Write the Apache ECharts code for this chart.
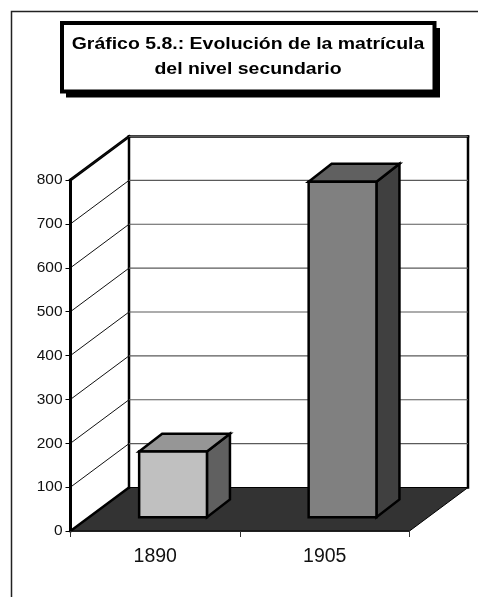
<!DOCTYPE html>
<html>
<head>
<meta charset="utf-8">
<style>html,body{margin:0;padding:0;background:#fff}#chart{width:478px;height:597px}</style>
<script src="https://cdn.jsdelivr.net/npm/echarts@6/dist/echarts.min.js"></script>
</head>
<body>
<div id="chart"></div>
<script>
// Enrolment figures
const categories = ['1890', '1905'];
const enrolment = [150, 765];
const yTicks = [100, 200, 300, 400, 500, 600, 700, 800];
const titleLines = ['Gráfico 5.8.: Evolución de la matrícula', 'del nivel secundario'];

// Oblique projection of the chart box
const ROOM_DX = 58.5, ROOM_DY = 43.5;
const BAR_OFFSET_DX = 17.8, BAR_OFFSET_DY = 13.7;
const BAR_DX = 23, BAR_DY = 17.8;
const BAR_WIDTH_RATIO = 0.4;

const frontFill = ['#c0c0c0', '#808080'];
const topFill = ['#969696', '#606060'];
const sideFill = ['#606060', '#404040'];
const FONT = '"Liberation Sans", Arial, sans-serif';

const poly = (points, fill, stroke, lineWidth) => ({
  type: 'polygon',
  shape: { points },
  style: { fill, stroke, lineWidth, lineJoin: 'miter', miterLimit: 10 }
});
const line = (x1, y1, x2, y2, stroke, lineWidth) => ({
  type: 'line',
  shape: { x1, y1, x2, y2 },
  style: { stroke, lineWidth, lineCap: 'square' }
});

// Floor and the outline of the back and left walls
function renderRoom(params) {
  const c = params.coordSys;
  const l = c.x, r = c.x + c.width, t = c.y, b = c.y + c.height;
  const bl = l + ROOM_DX, br = r + ROOM_DX;
  return {
    type: 'group',
    children: [
      poly([[l, b], [bl, b - ROOM_DY], [br, b - ROOM_DY], [r, b]], '#333333', '#000', 1),
      line(l, b, bl, b - ROOM_DY, '#000', 2.5),
      line(bl, t - ROOM_DY, br, t - ROOM_DY, '#000', 2.5),
      line(br, t - ROOM_DY, br, b - ROOM_DY, '#000', 2.5),
      line(bl, t - ROOM_DY, bl, b - ROOM_DY, '#000', 2.5),
      line(l, t, bl, t - ROOM_DY, '#000', 3)
    ]
  };
}

// One gridline per tick, running up the left wall and across the back wall
function renderGridline(params, api) {
  const c = params.coordSys;
  const y = api.coord([0, api.value(0)])[1];
  const l = c.x, bl = l + ROOM_DX, br = c.x + c.width + ROOM_DX;
  return {
    type: 'group',
    children: [
      { type: 'line', shape: { x1: l, y1: y, x2: bl, y2: y - ROOM_DY }, style: { stroke: '#111', lineWidth: 1 } },
      { type: 'line', shape: { x1: bl, y1: y - ROOM_DY, x2: br, y2: y - ROOM_DY }, style: { stroke: '#5a5a5a', lineWidth: 1.2 } }
    ]
  };
}

// A bar as a box: front face plus top and side faces
function renderBar(params, api) {
  const i = api.value(0);
  const top = api.coord([i, api.value(1)]);
  const base = api.coord([i, 0]);
  const w = api.size([1, 0])[0] * BAR_WIDTH_RATIO;
  const x0 = top[0] - w / 2 + BAR_OFFSET_DX, x1 = x0 + w;
  const y0 = top[1] - BAR_OFFSET_DY, y1 = base[1] - BAR_OFFSET_DY;
  return {
    type: 'group',
    children: [
      poly([[x1, y0], [x1 + BAR_DX, y0 - BAR_DY], [x1 + BAR_DX, y1 - BAR_DY], [x1, y1]], sideFill[i], '#000', 2.5),
      poly([[x0, y0], [x0 + BAR_DX, y0 - BAR_DY], [x1 + BAR_DX, y0 - BAR_DY], [x1, y0]], topFill[i], '#000', 2.5),
      poly([[x0, y0], [x1, y0], [x1, y1], [x0, y1]], frontFill[i], '#000', 2.5)
    ]
  };
}

const chart = echarts.init(document.getElementById('chart'), null, { renderer: 'canvas' });
chart.setOption({
  animation: false,
  backgroundColor: '#ffffff',
  grid: { left: 70.5, top: 180, width: 339, height: 351 },
  graphic: [
    { type: 'polyline', silent: true, z: 0, shape: { points: [[11.5, 597], [11.5, 11.5], [478, 11.5]] }, style: { fill: null, stroke: '#222', lineWidth: 1.5 } },
    { type: 'rect', silent: true, z: 0, shape: { x: 66, y: 28, width: 374, height: 69.5 }, style: { fill: '#000' } },
    { type: 'rect', silent: true, z: 0, shape: { x: 62, y: 23, width: 372.5, height: 68.5 }, style: { fill: '#fff', stroke: '#000', lineWidth: 4 } },
    // The heading is set wide, so each line is stretched horizontally about its centre
    { type: 'text', silent: true, z: 1, x: 248, y: 44, scaleX: 1.145,
      style: { text: titleLines[0], x: 0, y: 0, align: 'center', verticalAlign: 'middle', fill: '#000', font: 'bold 17px ' + FONT } },
    { type: 'text', silent: true, z: 1, x: 248, y: 69.5, scaleX: 1.145,
      style: { text: titleLines[1], x: 0, y: 0, align: 'center', verticalAlign: 'middle', fill: '#000', font: 'bold 17px ' + FONT } }
  ],
  xAxis: {
    type: 'category',
    data: categories,
    z: 6,
    axisLine: { show: true, lineStyle: { color: '#222', width: 1 } },
    axisTick: { show: true, alignWithLabel: false, length: 6, lineStyle: { color: '#333', width: 1 } },
    axisLabel: { fontFamily: FONT, fontSize: 19.5, color: '#111', margin: 16 },
    splitLine: { show: false }
  },
  yAxis: {
    type: 'value',
    min: 0, max: 800, interval: 100,
    z: 6,
    axisLine: { show: true, lineStyle: { color: '#000', width: 3 } },
    axisTick: { show: true, length: 5, lineStyle: { color: '#000', width: 1 } },
    axisLabel: { fontFamily: FONT, fontSize: 15.5, color: '#111', margin: 8 },
    splitLine: { show: false }
  },
  series: [
    { type: 'custom', name: 'room', z: 1, clip: false, silent: true, renderItem: renderRoom, data: [0], encode: { y: 0 } },
    { type: 'custom', name: 'gridlines', z: 2, clip: false, silent: true, renderItem: renderGridline, data: yTicks, encode: { y: 0 } },
    { type: 'custom', name: 'Matrícula', z: 3, clip: false, silent: true, renderItem: renderBar,
      data: enrolment.map((v, i) => [i, v]), encode: { x: 0, y: 1 } }
  ]
});
</script>
</body>
</html>
